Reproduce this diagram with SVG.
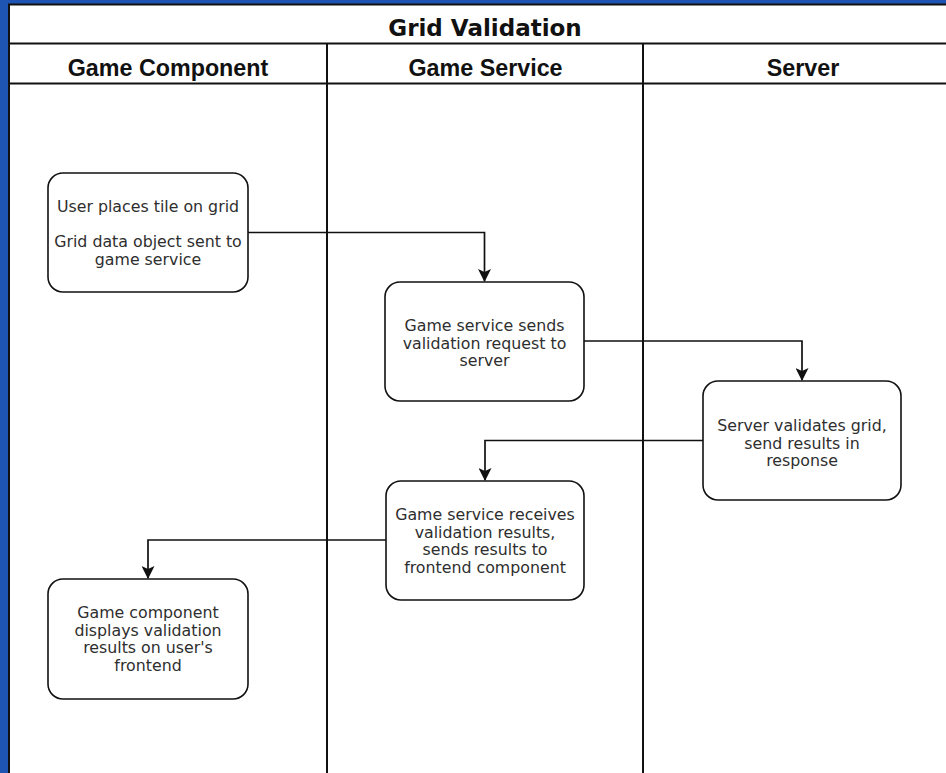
<svg xmlns="http://www.w3.org/2000/svg" width="946" height="773" viewBox="0 0 946 773">
<style>
.lane{fill:none;stroke:#111;stroke-width:2}
.box{fill:#fff;stroke:#111;stroke-width:1.6}
.t{font-family:"DejaVu Sans",Verdana,sans-serif;font-size:15.8px;fill:#2e2e2e;text-anchor:middle}
.h{font-family:"Liberation Sans",Arial,sans-serif;font-weight:bold;font-size:23.3px;fill:#111;text-anchor:middle}
.ti{font-family:"DejaVu Sans",Verdana,sans-serif;font-weight:bold;font-size:23px;fill:#111;text-anchor:middle}
.c{fill:none;stroke:#111;stroke-width:1.7}
</style>
<defs>
<marker id="arr" viewBox="0 0 13 13" refX="12" refY="6.5" markerWidth="13" markerHeight="13" markerUnits="userSpaceOnUse" orient="auto">
<path d="M0,0 L13,6.5 L0,13 L3,6.5 z" fill="#111"/>
</marker>
</defs>
<rect x="0" y="0" width="946" height="773" fill="#1e55b3"/>
<rect x="8" y="4" width="938" height="769" fill="#fff"/>
<g id="pool">
<path class="lane" d="M9,773 V4.5 H946"/>
<line class="lane" x1="9" y1="43.5" x2="946" y2="43.5"/>
<line class="lane" x1="9" y1="83.5" x2="946" y2="83.5"/>
<line class="lane" x1="327" y1="43.5" x2="327" y2="773"/>
<line class="lane" x1="643" y1="43.5" x2="643" y2="773"/>
<text class="ti" x="485" y="35.5">Grid Validation</text>
<text class="h" x="168" y="76">Game Component</text>
<text class="h" x="485.5" y="75.5">Game Service</text>
<text class="h" x="803" y="75.5">Server</text>
</g>
<g id="connectors">
<path class="c" d="M248,232.5 H484.5 V281" marker-end="url(#arr)"/>
<path class="c" d="M584,341 H802 V380" marker-end="url(#arr)"/>
<path class="c" d="M703,440.5 H485 V480" marker-end="url(#arr)"/>
<path class="c" d="M386,540 H148 V578" marker-end="url(#arr)"/>
</g>
<g id="n1">
<rect class="box" x="48" y="173" width="200" height="119" rx="15"/>
<text class="t" x="148" y="212">User places tile on grid</text>
<text class="t" x="148" y="247">Grid data object sent to</text>
<text class="t" x="148" y="264.5">game service</text>
</g>
<g id="n2">
<rect class="box" x="385" y="282" width="199" height="119" rx="15"/>
<text class="t" x="484.5" y="331">Game service sends</text>
<text class="t" x="484.5" y="348.5">validation request to</text>
<text class="t" x="484.5" y="366">server</text>
</g>
<g id="n3">
<rect class="box" x="703" y="381" width="198" height="119" rx="15"/>
<text class="t" x="802" y="431">Server validates grid,</text>
<text class="t" x="802" y="448.5">send results in</text>
<text class="t" x="802" y="466">response</text>
</g>
<g id="n4">
<rect class="box" x="386" y="481" width="198" height="119" rx="15"/>
<text class="t" x="485" y="520">Game service receives</text>
<text class="t" x="485" y="537.5">validation results,</text>
<text class="t" x="485" y="555">sends results to</text>
<text class="t" x="485" y="572.5">frontend component</text>
</g>
<g id="n5">
<rect class="box" x="48" y="579" width="200" height="120" rx="15"/>
<text class="t" x="148" y="618">Game component</text>
<text class="t" x="148" y="635.5">displays validation</text>
<text class="t" x="148" y="653">results on user's</text>
<text class="t" x="148" y="670.5">frontend</text>
</g>
</svg>
